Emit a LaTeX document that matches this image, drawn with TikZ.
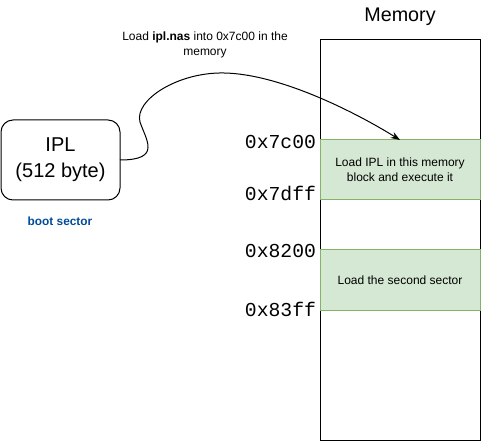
\documentclass[tikz,border=0pt]{standalone}
\usepackage{fontspec}
\setmainfont{Liberation Sans}
\setmonofont{Liberation Mono}
\usetikzlibrary{arrows.meta}
\definecolor{gfill}{HTML}{D5E8D4}
\definecolor{gline}{HTML}{82B366}
\definecolor{bootblue}{HTML}{004C99}
\begin{document}
\begin{tikzpicture}[x=0.75pt,y=-0.75pt,
  every node/.style={inner sep=0pt,outer sep=0pt},
  hexlabel/.style={anchor=east,font=\ttfamily\fontsize{14.8}{16}\selectfont},
  block/.style={draw=gline,fill=gfill,line width=0.75pt,minimum width=120pt,minimum height=45pt,align=center,font=\fontsize{9}{11.25}\selectfont},
  conn/.style={line width=0.75pt,-{Stealth[length=7pt,width=5pt]}}]
\useasboundingbox (0,0) rectangle (481,441);
% memory column
\node[draw,line width=0.75pt,minimum width=120pt,minimum height=300pt,anchor=north west] (mem) at (320,40) {};
\node[font=\fontsize{14.8}{17}\selectfont] (memtitle) at (400,17) {Memory};
% blocks
\node[block] (blk1) at (400,170) {Load IPL in this memory\\block and execute it};
\node[block] (blk2) at (400,280) {Load the second sector};
% hex labels
\node[hexlabel] (a1) at (316,142) {0x7c00};
\node[hexlabel] (a2) at (316,193) {0x7dff};
\node[hexlabel] (a3) at (316,251) {0x8200};
\node[hexlabel] (a4) at (316,309) {0x83ff};
% IPL box
\node[draw,line width=0.75pt,rounded corners=9pt,minimum width=89.25pt,minimum height=60pt,align=center,font=\fontsize{15}{19.5}\selectfont] (ipl) at (60.5,160) {IPL\\(512 byte)};
\node[font=\bfseries\fontsize{8.9}{10}\selectfont,text=bootblue] (boot) at (60,221) {boot sector};
% connector
\draw[conn] (ipl.east) .. controls (162,160) and (146,140) .. (140,122)
  .. controls (134,100) and (178,72) .. (224,73)
  .. controls (282,74) and (360,115) .. (blk1.north);
\node[align=center,font=\fontsize{9}{11.25}\selectfont] (lbl) at (205,45) {Load \textbf{ipl.nas} into 0x7c00 in the\\memory};
\end{tikzpicture}
\end{document}
